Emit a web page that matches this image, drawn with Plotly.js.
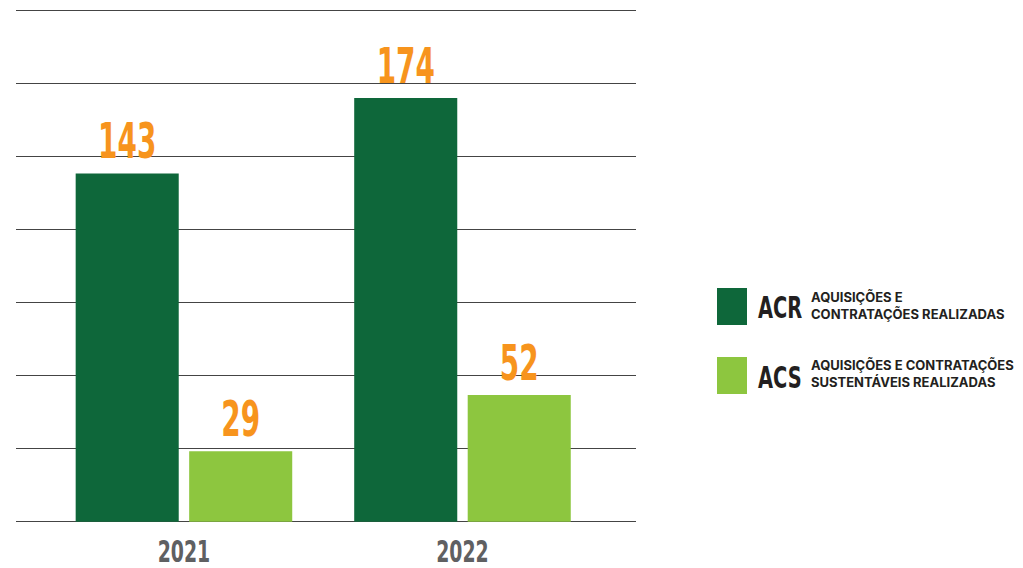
<!DOCTYPE html>
<html>
<head>
<meta charset="utf-8">
<script src="https://cdn.plot.ly/plotly-3.0.1.min.js"></script>
<style>html,body{margin:0;padding:0;background:#fff;}#chart{width:1023px;height:568px;}</style>
</head>
<body>
<div id="chart"></div>
<script>
// ---- data ----
const years = ['2021', '2022'];
const acrValues = [143, 174];
const acsValues = [29, 52];
const seriesCodes = ['ACR', 'ACS'];
const seriesDescriptions = [
  'AQUISIÇÕES E<br>CONTRATAÇÕES REALIZADAS',
  'AQUISIÇÕES E CONTRATAÇÕES<br>SUSTENTÁVEIS REALIZADAS'
];

// ---- styles ----
const seriesColors = ['#0E673A', '#8DC63F'];
const labelColor = '#F7941D';
const yearColor = '#5F6062';
const darkText = '#231F20';
const narrow = '"DejaVu Sans Condensed", "DejaVu Sans", sans-serif';

const W = 1023, H = 568;
const margin = {l: 16, r: 387, t: 9, b: 45};
const plotW = W - margin.l - margin.r;
const plotH = H - margin.t - margin.b;
const px2x = px => (px - margin.l) / plotW;
const px2y = py => (H - margin.b - py) / plotH;

const valueSets = [acrValues, acsValues];
const traces = valueSets.map((vals, i) => ({
  type: 'bar',
  name: seriesCodes[i],
  x: years,
  y: vals,
  marker: {color: seriesColors[i], line: {width: 0}},
  texttemplate: '%{y}',
  textposition: 'outside',
  constraintext: 'none',
  cliponaxis: false,
  textfont: {family: narrow, size: 50, color: labelColor, weight: 'bold'},
  hoverinfo: 'skip',
  showlegend: false
}));

// custom legend
const shapes = [];
const annotations = [];
const legendTops = [288, 357];
seriesCodes.forEach((code, i) => {
  const top = legendTops[i];
  shapes.push({
    type: 'rect', xref: 'paper', yref: 'paper',
    x0: px2x(717), x1: px2x(747), y0: px2y(top + 37), y1: px2y(top),
    fillcolor: seriesColors[i], line: {width: 0}
  });
  annotations.push({
    xref: 'paper', yref: 'paper', x: px2x(756), y: px2y(top + 20),
    xanchor: 'left', yanchor: 'middle', align: 'left', showarrow: false,
    text: '<b>' + code + '</b>',
    font: {family: narrow, size: 30, color: darkText}
  });
  annotations.push({
    xref: 'paper', yref: 'paper', x: px2x(809), y: px2y(top + 17),
    xanchor: 'left', yanchor: 'middle', align: 'left', showarrow: false,
    text: '<b>' + seriesDescriptions[i] + '</b>',
    font: {family: 'Inter, Roboto, sans-serif', size: 13, color: darkText}
  });
});

const layout = {
  width: W, height: H,
  margin: margin,
  paper_bgcolor: '#fff', plot_bgcolor: '#fff',
  barmode: 'group',
  bargap: 0.185,
  bargroupgap: 0.092,
  xaxis: {
    type: 'category',
    range: [-0.603, 1.623],
    showgrid: false, zeroline: false, showline: false,
    ticks: '',
    ticklabelstandoff: 8,
    tickfont: {family: narrow, size: 30, color: yearColor, weight: 'bold'},
    fixedrange: true
  },
  yaxis: {
    range: [-0.5, 210.5],
    tickvals: [0, 30, 60, 90, 120, 150, 180, 210],
    showticklabels: false,
    showgrid: true,
    gridcolor: '#444',
    gridwidth: 1,
    zeroline: false,
    showline: false,
    ticks: '',
    fixedrange: true
  },
  shapes: shapes,
  annotations: annotations,
  showlegend: false
};

// horizontally condense text drawn in the condensed display face
function squeeze(nodes, s) {
  nodes.forEach(t => {
    const x = parseFloat(t.getAttribute('x')) || 0;
    const y = parseFloat(t.getAttribute('y')) || 0;
    const tr = t.getAttribute('transform') || '';
    t.setAttribute('transform', tr + ' translate(' + x + ',' + y + ') scale(' + s + ',1) translate(' + (-x) + ',' + (-y) + ')');
  });
}

Plotly.newPlot('chart', traces, layout, {displayModeBar: false, staticPlot: true}).then(gd => {
  squeeze(Array.from(gd.querySelectorAll('text.bartext')), 0.62);
  squeeze(Array.from(gd.querySelectorAll('.xtick text')), 0.7);
  squeeze(Array.from(gd.querySelectorAll('text.annotation-text')).filter(t => seriesCodes.includes(t.textContent.trim())), 0.72);
});
</script>
</body>
</html>
